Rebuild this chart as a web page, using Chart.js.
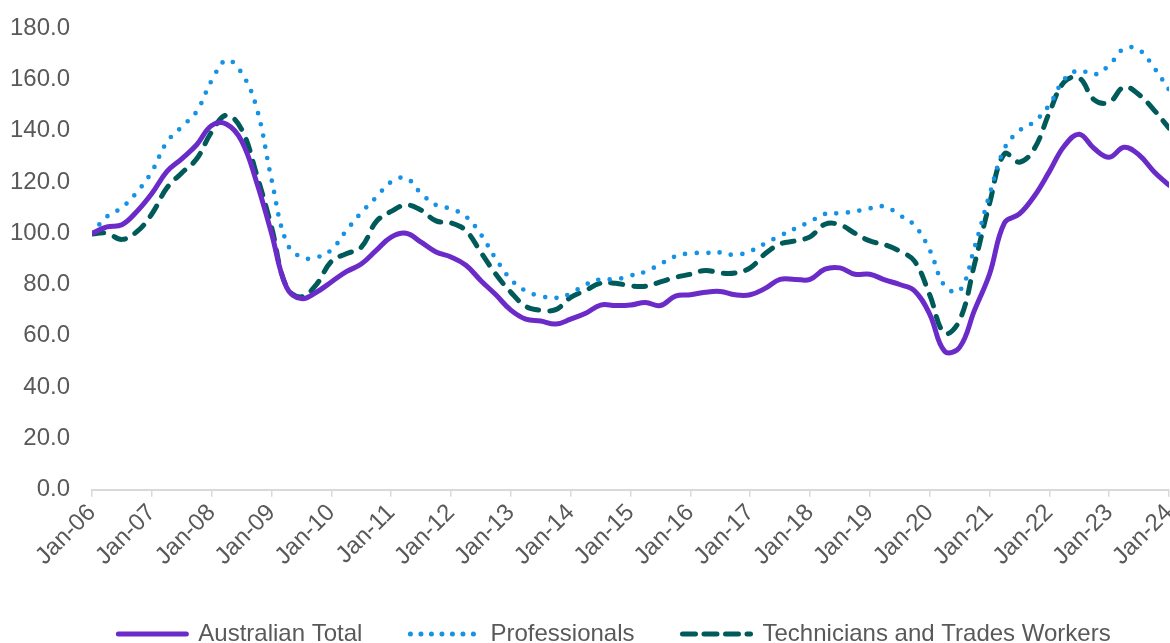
<!DOCTYPE html>
<html><head><meta charset="utf-8">
<script src="https://cdn.jsdelivr.net/npm/chart.js@4.4.1/dist/chart.umd.min.js"></script>
<style>
html,body{margin:0;padding:0;overflow:hidden;background:#fff;width:1170px;height:643px}
#wrap{position:absolute;left:0;top:0;width:1170px;height:656px}
</style>
</head><body><div id="wrap"><canvas id="c"></canvas></div>
<script>
// Quarterly observations, Jan-06 .. Jan-24
const tickLabels = ['Jan-06','Jan-07','Jan-08','Jan-09','Jan-10','Jan-11','Jan-12','Jan-13','Jan-14','Jan-15','Jan-16','Jan-17','Jan-18','Jan-19','Jan-20','Jan-21','Jan-22','Jan-23','Jan-24'];
const seriesNames = ['Australian Total','Professionals','Technicians and Trades Workers'];

const australianTotal = [100,102.5,103.3,108.5,115.5,124,129,134.5,142,142.5,136,120,
  100,79,74.5,77,81,85,88,93.3,98.5,100,96.5,92.7,
  90.7,87.5,81.5,76,70,66.5,65.8,64.6,66.5,68.8,72,71.8,
  72,73,71.8,75.5,76,77,77.3,76,76,78.5,82,82,
  82,86,86.5,84,84,81.8,80,77.5,68.5,54,55.5,70,
  84,104,107.5,114.5,124,134,138.6,133,129.6,133.5,130.5,124,118.7];

const professionals = [100,106.5,110,116,124,135.5,141.5,147.5,159.5,167.5,162.5,149,
  121,96.5,90.6,90.6,93.5,101,108,114,120,121.5,115.5,111,
  109.5,106.5,99.5,90,82,77.5,75.5,74.8,76.5,80,82,82,
  83.5,85,88,91,92.2,92.3,92.5,91.5,93,96,99,101.8,
  104.5,107.5,107.8,108.5,109.7,110.4,107,103,93.5,79.5,77.5,94.5,
  115,133,140,143.5,150,160,163.5,161.8,165.5,172,171.5,164.5,156];

const techniciansTrades = [99.7,100,97.6,100.6,107.5,117.6,123.5,129,139.5,146,140.5,123,
  102.4,79,75.2,80,89,92,94.5,104.5,108.5,111,109,104.8,
  104,101,92.5,84,77,71.5,70,70.2,75,77.7,80.5,80.5,
  79.5,79.3,81,82.8,84,85.5,84.5,84.5,86.5,92,95.8,97,
  98.6,103.5,103.3,100,97,95.5,93,89,76,61,66,88,
  111.5,131,127.7,133,147,159,160.5,152,151,157,154,148,141];

const toPoints = arr => arr.map((v, i) => ({x: i, y: v}));

const grey = '#595959';
const font = {family: "'Liberation Sans', Arial, sans-serif", size: 24};
const legendDashes = [[], [0, 10.5], [13, 8.5]];

const legendShift = {
  id: 'legendShift',
  afterLayout(chart) {
    const lg = chart.legend;
    if (lg) { lg.left += 25; lg.right += 25; }
  }
};

new Chart(document.getElementById('c'), {
  type: 'line',
  plugins: [legendShift],
  data: {
    datasets: [
      {label: seriesNames[0], data: toPoints(australianTotal), borderColor: '#6a2bc8', backgroundColor: '#6a2bc8',
       borderWidth: 5, pointRadius: 0, tension: 0.4, borderCapStyle: 'round', borderJoinStyle: 'round'},
      {label: seriesNames[1], data: toPoints(professionals), borderColor: '#1592e6', backgroundColor: '#1592e6',
       borderWidth: 4.7, borderDash: [0, 11.5], borderCapStyle: 'round', pointRadius: 0, tension: 0.4},
      {label: seriesNames[2], data: toPoints(techniciansTrades), borderColor: '#005a5a', backgroundColor: '#005a5a',
       borderWidth: 5, borderDash: [12, 11], borderCapStyle: 'round', pointRadius: 0, tension: 0.4}
    ]
  },
  options: {
    responsive: true,
    maintainAspectRatio: false,
    animation: false,
    devicePixelRatio: 1,
    layout: {padding: {top: 28, left: 10, right: 1, bottom: 0}},
    plugins: {
      tooltip: {enabled: false},
      legend: {
        position: 'bottom',
        labels: {
          usePointStyle: true, pointStyle: 'line', pointStyleWidth: 68,
          font: font, color: grey, padding: 48,
          generateLabels: chart => {
            const items = Chart.defaults.plugins.legend.labels.generateLabels(chart);
            items.forEach((it, i) => {
              const ds = chart.data.datasets[i];
              it.lineDash = legendDashes[i];
              it.lineCap = 'round';
              it.lineWidth = 5;
              it.strokeStyle = ds.borderColor;
              it.fillStyle = ds.borderColor;
              it.pointStyle = 'line';
            });
            return items;
          }
        }
      }
    },
    scales: {
      x: {
        type: 'linear', min: 0, max: 72,
        afterFit: s => { s.paddingLeft = 0; s.paddingRight = 0; s.height += 1; },
        grid: {display: true, drawOnChartArea: false, drawTicks: true, tickLength: 7, color: '#d9d9d9', lineWidth: 1.5},
        border: {display: true, color: '#d9d9d9', width: 2},
        ticks: {
          stepSize: 4, autoSkip: false, maxRotation: 45, minRotation: 45,
          font: font, color: grey, padding: 2,
          callback: v => tickLabels[v / 4]
        }
      },
      y: {
        min: 0, max: 180,
        afterFit: s => { s.width = 82; s.paddingTop = 0; s.paddingBottom = 0; },
        grid: {display: false, drawTicks: false},
        border: {display: false},
        ticks: {stepSize: 20, font: font, color: grey, padding: 22, callback: v => v.toFixed(1)}
      }
    }
  }
});
</script>
</body></html>
